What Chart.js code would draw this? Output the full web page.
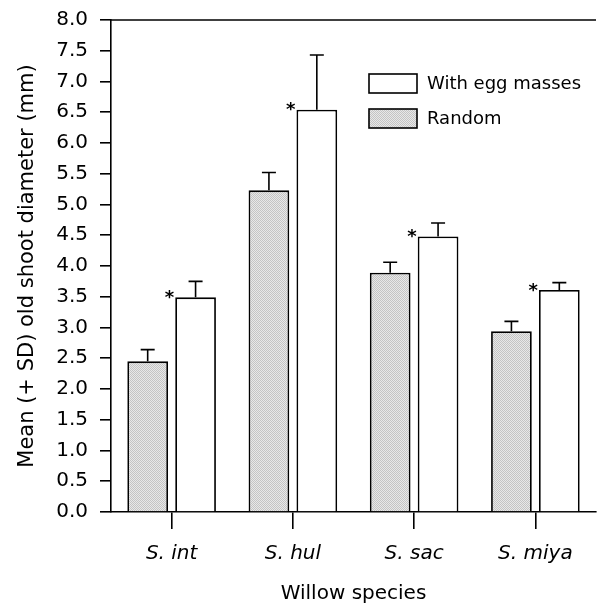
<!DOCTYPE html>
<html>
<head>
<meta charset="utf-8">
<script src="https://cdn.jsdelivr.net/npm/chart.js@4.4.1/dist/chart.umd.min.js"></script>
<style>
  html, body { margin: 0; padding: 0; background: #fff; }
  #wrap { width: 602px; height: 606px; }
</style>
</head>
<body>
<div id="wrap"><canvas id="chart-utama" width="602" height="606"></canvas></div>
<script>
const species = ["S. int", "S. hul", "S. sac", "S. miya"];
const randomMean = [2.45, 5.23, 3.89, 2.94];
const randomSD = [0.19, 0.29, 0.17, 0.16];
const eggMean = [3.49, 6.54, 4.48, 3.61];
const eggSD = [0.26, 0.89, 0.22, 0.12];
const significant = [true, true, true, true];
const yTicks = [0, 0.5, 1, 1.5, 2, 2.5, 3, 3.5, 4, 4.5, 5, 5.5, 6, 6.5, 7, 7.5, 8];

const fontFam = "'DejaVu Sans', sans-serif";

// stippled grey fill like the printed figure
function makeStipple() {
    const c = document.createElement("canvas");
    c.width = 2; c.height = 2;
    const g = c.getContext("2d");
    g.fillStyle = "#e8e8e8"; g.fillRect(0, 0, 2, 2);
    g.fillStyle = "#c4c4c4"; g.fillRect(0, 0, 1, 1); g.fillRect(1, 1, 1, 1);
    return g.createPattern(c, "repeat");
}
const stipple = makeStipple();

const extras = {
    id: "extras",
    afterDatasetsDraw(chart) {
        const c = chart.ctx;
        const y = chart.scales.y;
        const area = chart.chartArea;
        c.save();
        c.strokeStyle = "#000";
        c.lineWidth = 1.6;
        // top frame line
        c.beginPath();
        c.moveTo(area.left, area.top);
        c.lineTo(area.right, area.top);
        c.stroke();
        // upward-only SD bars
        [[0, randomMean, randomSD], [1, eggMean, eggSD]].forEach(([di, m, sd]) => {
            chart.getDatasetMeta(di).data.forEach((bar, i) => {
                const y0 = y.getPixelForValue(m[i]);
                const y1 = y.getPixelForValue(m[i] + sd[i]);
                c.beginPath();
                c.moveTo(bar.x, y0);
                c.lineTo(bar.x, y1);
                c.moveTo(bar.x - 7, y1);
                c.lineTo(bar.x + 7, y1);
                c.stroke();
            });
        });
        // asterisks
        c.fillStyle = "#000";
        c.font = "bold 18px " + fontFam;
        c.textAlign = "right";
        c.textBaseline = "middle";
        chart.getDatasetMeta(1).data.forEach((bar, i) => {
            if (!significant[i]) return;
            const left = bar.x - bar.width / 2;
            c.fillText("*", left - 1, y.getPixelForValue(eggMean[i]) + 1);
        });
        // legend
        const items = [["With egg masses", "#fff", 83], ["Random", stipple, 118]];
        c.font = "18px " + fontFam;
        c.textAlign = "left";
        items.forEach(([txt, fill, cy]) => {
            c.fillStyle = fill;
            c.fillRect(369, cy - 9, 48, 19);
            c.strokeRect(369, cy - 9, 48, 19);
            c.fillStyle = "#000";
            c.fillText(txt, 427, cy + 1);
        });
        c.restore();
    }
};

new Chart(document.getElementById("chart-utama"), {
    type: "bar",
    data: {
        labels: species,
        datasets: [
            {
                label: "Random",
                data: randomMean,
                backgroundColor: stipple,
                borderColor: "#000",
                borderWidth: 1.8
            },
            {
                label: "With egg masses",
                data: eggMean,
                backgroundColor: "#fff",
                borderColor: "#000",
                borderWidth: 1.8
            }
        ]
    },
    options: {
        responsive: false,
        animation: false,
        events: [],
        categoryPercentage: 0.79,
        barPercentage: 0.85,
        layout: { padding: { top: 20, right: 6, left: 4, bottom: 0 } },
        plugins: { legend: { display: false }, tooltip: { enabled: false } },
        scales: {
            x: {
                afterFit(s) { s.height = 94; s.paddingLeft = 0; s.paddingRight = 0; },
                grid: { offset: false, drawOnChartArea: false, tickLength: 17, color: "#000", lineWidth: 1.6 },
                border: { color: "#000", width: 1.6 },
                ticks: { color: "#000", padding: 13, font: { family: fontFam, size: 20, style: "italic" } },
                title: { display: true, text: "Willow species", color: "#000", padding: { top: 0, bottom: 0 }, font: { family: fontFam, size: 20 } }
            },
            y: {
                min: 0,
                max: 8,
                afterBuildTicks(s) { s.ticks = yTicks.map(v => ({ value: v })); },
                afterFit(s) { s.width = 107; s.paddingTop = 0; s.paddingBottom = 0; },
                grid: { drawOnChartArea: false, tickLength: 11, color: "#000", lineWidth: 1.6 },
                border: { color: "#000", width: 1.6 },
                ticks: { color: "#000", padding: 12, font: { family: fontFam, size: 20 }, callback: v => Number(v).toFixed(1) },
                title: { display: true, text: "Mean (+ SD) old shoot diameter (mm)", color: "#000", padding: { top: 11, bottom: 0 }, font: { family: fontFam, size: 21 } }
            }
        }
    },
    plugins: [extras]
});
</script>
</body>
</html>
